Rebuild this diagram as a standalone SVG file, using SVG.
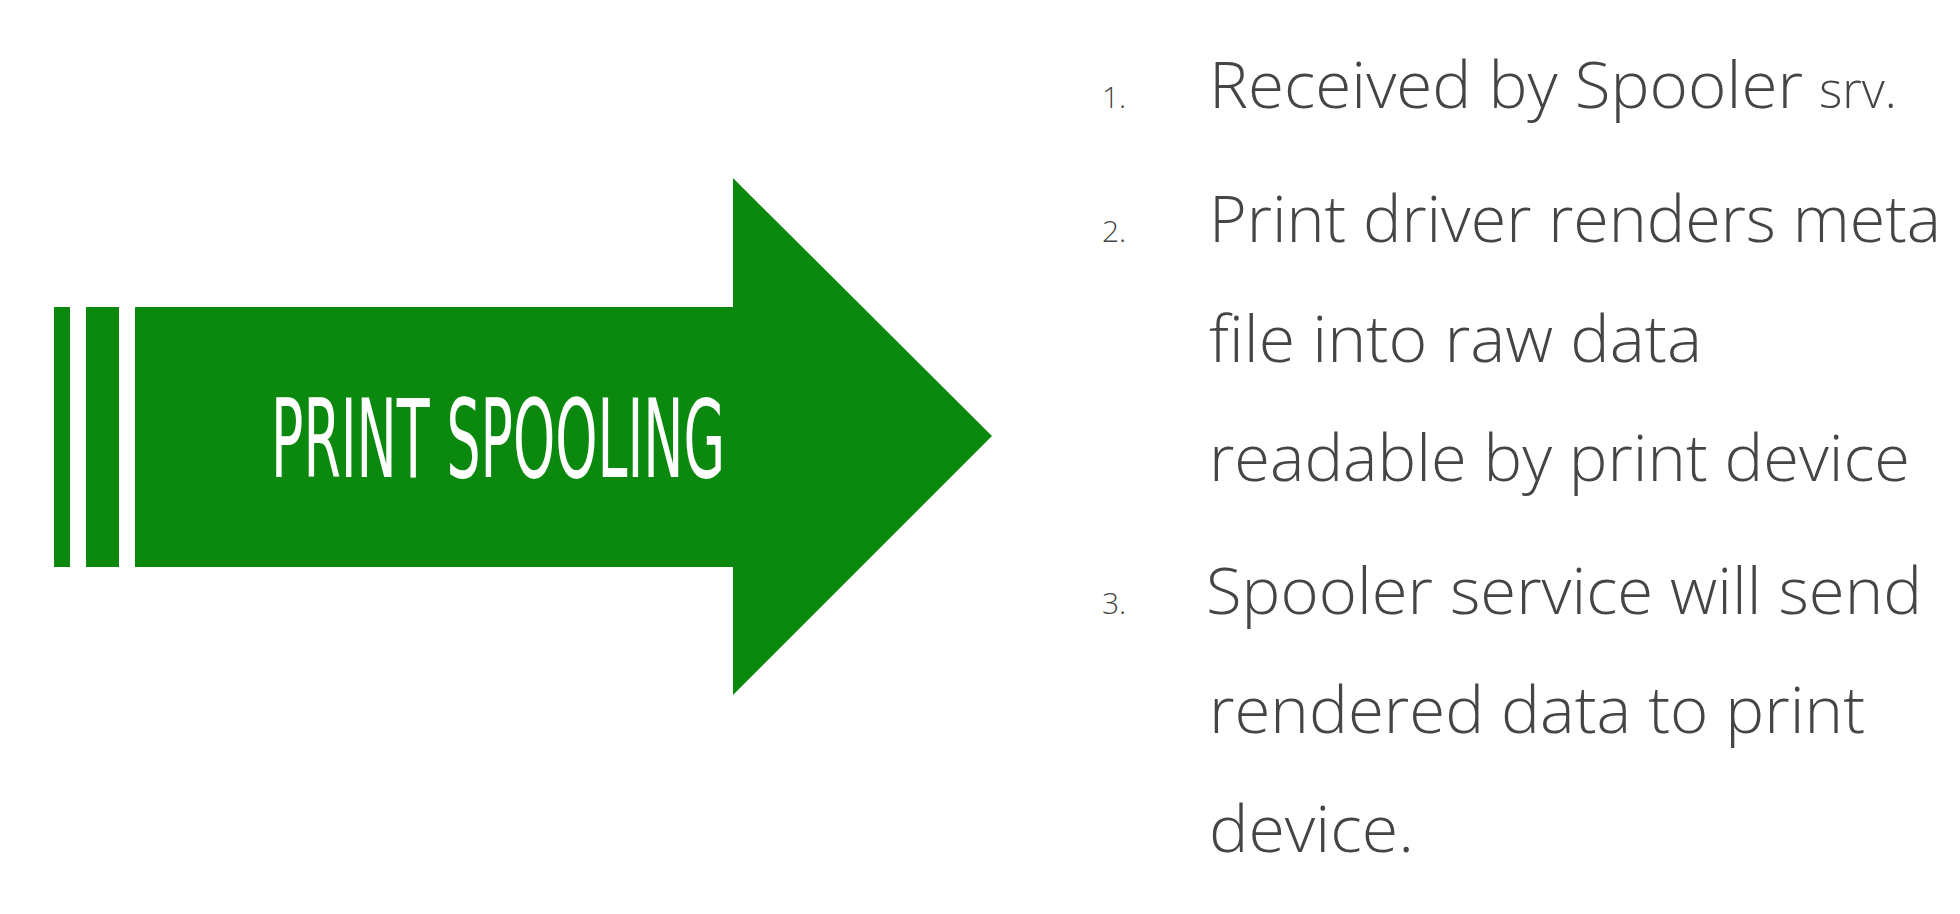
<svg xmlns="http://www.w3.org/2000/svg" width="1960" height="914" viewBox="0 0 1960 914">
<style>
.g{fill:#0a890e}
.t{font-family:"Open Sans","Liberation Sans",sans-serif;font-weight:300;fill:#454545}
.big{font-size:64px}
.num{font-size:30px}
.sm{font-size:50px}
.lbl{font-family:"Liberation Sans Narrow","DejaVu Sans Condensed",sans-serif;font-size:108px;fill:#ffffff}
</style>
<rect width="1960" height="914" fill="#ffffff"/>
<g id="arrow">
<rect class="g" x="54" y="307" width="16" height="260"/>
<rect class="g" x="86" y="307" width="33" height="260"/>
<polygon class="g" points="135,307 733,307 733,178 992,436 733,695 733,567 135,567"/>
<text class="lbl" x="271" y="477" textLength="454" lengthAdjust="spacingAndGlyphs">PRINT SPOOLING</text>
</g>
<g id="list">
<text class="t num" x="1102" y="108">1.</text>
<text class="t big" x="1209" y="108"><tspan textLength="594" lengthAdjust="spacingAndGlyphs">Received by Spooler</tspan><tspan class="sm" x="1819">srv.</tspan></text>
<text class="t num" x="1102" y="242">2.</text>
<text class="t big" x="1209" y="242" textLength="732" lengthAdjust="spacingAndGlyphs">Print driver renders meta</text>
<text class="t big" x="1209" y="362" textLength="493" lengthAdjust="spacingAndGlyphs">file into raw data</text>
<text class="t big" x="1209" y="481" textLength="701" lengthAdjust="spacingAndGlyphs">readable by print device</text>
<text class="t num" x="1102" y="614">3.</text>
<text class="t big" x="1206" y="614" textLength="716" lengthAdjust="spacingAndGlyphs">Spooler service will send</text>
<text class="t big" x="1209" y="733" textLength="656" lengthAdjust="spacingAndGlyphs">rendered data to print</text>
<text class="t big" x="1209" y="852" textLength="205" lengthAdjust="spacingAndGlyphs">device.</text>
</g>
</svg>
